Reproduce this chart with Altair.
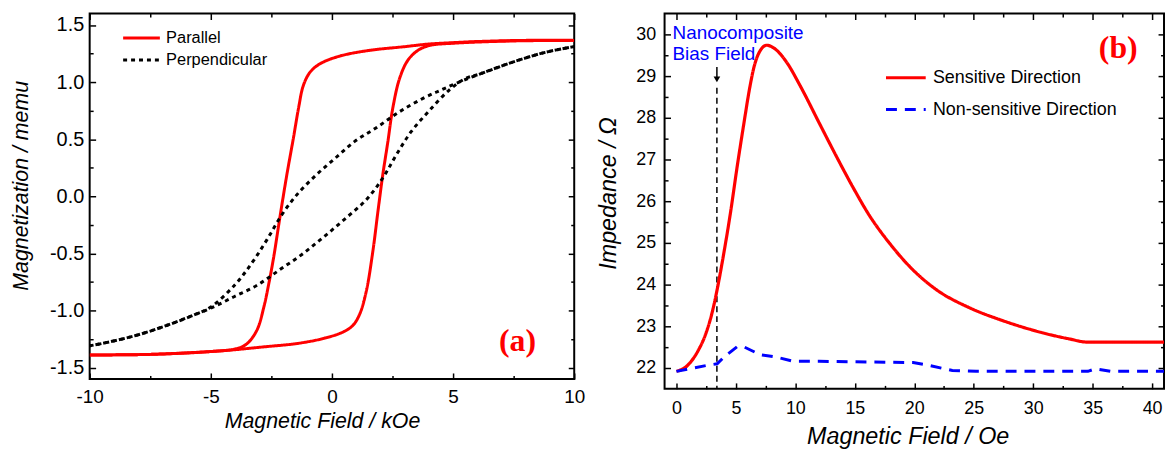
import altair as alt
import pandas as pd

# ---------------- Panel (a): hysteresis loops ----------------
par_desc_x = [10, 8, 6, 5, 4, 3, 1.5, 0.3, -0.5, -0.9, -1.18, -1.38, -1.59, -1.86, -2.13,
              -2.41, -2.61, -2.81, -3.09, -3.5, -3.9, -5, -7.5, -10]
par_desc_y = [1.365, 1.365, 1.355, 1.345, 1.333, 1.31, 1.276, 1.226, 1.159, 1.087, 0.97, 0.77,
              0.51, 0.19, -0.16, -0.54, -0.77, -0.97, -1.17, -1.29, -1.333, -1.36, -1.385, -1.39]
par_asc_x = [-10, -7.5, -5, -4.2, -2.8, -1.45, -0.36, 0.46, 0.87, 1.15, 1.42, 1.69, 1.9, 2.1,
             2.31, 2.51, 2.79, 3.13, 3.54, 4.02, 5, 7.5, 10]
par_asc_y = [-1.39, -1.385, -1.36, -1.348, -1.319, -1.29, -1.246, -1.189, -1.13, -1.03, -0.83,
             -0.48, -0.13, 0.19, 0.48, 0.77, 1.03, 1.19, 1.276, 1.32, 1.34, 1.36, 1.365]
perp_desc_x = [10, 8.8, 7.4, 6.1, 5.25, 4.5, 3.74, 2.79, 1.83, 0.94, 0.12, -0.63, -1.38, -2.06,
               -2.68, -3.29, -3.98, -5.0, -5.7, -6.8, -8.1, -9.5, -10]
perp_desc_y = [1.31, 1.26, 1.17, 1.07, 1.0, 0.93, 0.855, 0.74, 0.60, 0.48, 0.33, 0.19, 0.03, -0.16,
               -0.38, -0.58, -0.77, -0.97, -1.04, -1.13, -1.22, -1.29, -1.31]
perp_asc_x = [-10, -9.5, -8.1, -6.8, -5.7, -5.0, -4.04, -3.09, -2.13, -1.24, -0.36, 0.53, 1.42,
              2.10, 2.65, 3.27, 4.02, 4.84, 5.5, 6.1, 7.4, 8.8, 10]
perp_asc_y = [-1.31, -1.29, -1.22, -1.13, -1.04, -0.98, -0.88, -0.78, -0.64, -0.51, -0.36, -0.20,
              -0.03, 0.16, 0.36, 0.565, 0.75, 0.93, 1.03, 1.07, 1.17, 1.26, 1.31]

a_series = ["Parallel", "Perpendicular"]
a_colors = ["#ff0000", "#000000"]
a_x_major = [-10, -5, 0, 5, 10]
a_x_minor = [-7.5, -2.5, 2.5, 7.5]
a_y_major = [-1.5, -1.0, -0.5, 0.0, 0.5, 1.0, 1.5]
a_y_minor = [-1.25, -0.75, -0.25, 0.25, 0.75, 1.25]
a_label = ["(a)"]
a_label_x = [7.66]
a_label_y = [-1.27]

# ---------------- Panel (b): impedance ----------------
sens_x = [0, 0.92, 1.75, 2.45, 3.0, 3.42, 3.98, 4.53, 5.09, 5.65, 6.2, 6.48, 7.04, 7.6, 8.15,
          9.27, 10.38, 12.05, 13.44, 14.83, 16.22, 17.95, 19.9, 21.85, 24.6, 27.4, 30.2, 33.0,
          34.6, 35.75, 41]
sens_y = [21.92, 22.06, 22.38, 22.81, 23.33, 23.88, 24.75, 25.70, 26.80, 27.83, 28.78, 29.17,
          29.61, 29.74, 29.68, 29.33, 28.78, 27.85, 27.08, 26.34, 25.66, 24.98, 24.35, 23.88,
          23.45, 23.14, 22.89, 22.70, 22.62, 22.62, 22.62]
ns_x = [0, 2.5, 3.42, 3.98, 5.09, 5.65, 7.04, 8.43, 9.82, 12, 17.6, 19.9, 21.3, 23.2, 25.2,
        34.6, 35.2, 36.5, 41]
ns_y = [21.92, 22.06, 22.1, 22.26, 22.51, 22.51, 22.32, 22.26, 22.16, 22.16, 22.14, 22.13,
        22.06, 21.94, 21.92, 21.92, 21.98, 21.92, 21.92]

b_series = ["Sensitive Direction", "Non-sensitive Direction"]
b_colors = ["#ff0000", "#0000ff"]
b_x_major = [0, 5, 10, 15, 20, 25, 30, 35, 40]
b_x_minor = [2.5, 7.5, 12.5, 17.5, 22.5, 27.5, 32.5, 37.5]
b_y_major = [22, 23, 24, 25, 26, 27, 28, 29, 30]
b_y_minor = [22.5, 23.5, 24.5, 25.5, 26.5, 27.5, 28.5, 29.5]
b_label = ["(b)"]
b_label_x = [37.15]
b_label_y = [29.66]
note_text = ["Nanocomposite", "Bias Field"]
note_x = [-0.33, -0.33]
note_y = [30.04, 29.53]
bias_field = [3.4]
arrow_top = [29.22]
arrow_tip = [28.92]
dash_top = [28.72]

FONT = "Liberation Sans"


def build_df(parts):
    rows = []
    for series, branch, xs, ys in parts:
        for i, (xv, yv) in enumerate(zip(xs, ys)):
            rows.append({"x": xv, "y": yv, "series": series, "branch": branch, "idx": i})
    return pd.DataFrame(rows)


def neg_expr(fmt):
    return ("datum.value < 0 ? '-' + format(-datum.value, '%s') : format(datum.value, '%s')"
            % (fmt, fmt))


def tick_axis(orient, values, size):
    return alt.Axis(orient=orient, values=values, tickSize=size, offset=-size, labels=False,
                    title=None, domain=False, grid=False, ticks=True, tickColor="black",
                    tickWidth=1.5, zindex=1)


def axis_layers(xdom, ydom, xmaj, xmin, ymaj, ymin, xtitle, ytitle, xlab_fs, ylab_fs, title_fs,
                xlp, ylp, xtp, ytp, xfmt, yfmt, title_x, title_y, x_ext, y_ext):
    pt = pd.DataFrame({"x": [xdom[0]], "y": [ydom[0]]})
    xs = alt.Scale(domain=xdom, nice=False, zero=False)
    ys = alt.Scale(domain=ydom, nice=False, zero=False)
    label_x = alt.Axis(orient="bottom", values=xmaj, ticks=False, domain=False, grid=False,
                       labels=True, labelExpr=neg_expr(xfmt), labelFont=FONT,
                       labelFontSize=xlab_fs, labelPadding=xlp, labelColor="black",
                       title=xtitle, titleFont=FONT, titleFontSize=title_fs,
                       titleFontStyle="italic", titleFontWeight="normal", titlePadding=xtp,
                       titleColor="black", titleX=title_x, labelFlush=False, labelOverlap=False,
                       minExtent=x_ext, maxExtent=x_ext)
    label_y = alt.Axis(orient="left", values=ymaj, ticks=False, domain=False, grid=False,
                       labels=True, labelExpr=neg_expr(yfmt), labelFont=FONT,
                       labelFontSize=ylab_fs, labelPadding=ylp, labelColor="black",
                       title=ytitle, titleFont=FONT, titleFontSize=title_fs,
                       titleFontStyle="italic", titleFontWeight="normal", titlePadding=ytp,
                       titleColor="black", titleY=title_y, labelFlush=False, labelOverlap=False,
                       minExtent=y_ext, maxExtent=y_ext)
    specs = [
        (label_x, label_y),
        (tick_axis("bottom", xmaj, 6), tick_axis("left", ymaj, 6)),
        (tick_axis("bottom", xmin, 3.5), tick_axis("left", ymin, 3.5)),
        (tick_axis("top", xmaj, 6), tick_axis("right", ymaj, 6)),
        (tick_axis("top", xmin, 3.5), tick_axis("right", ymin, 3.5)),
    ]
    layers = []
    for xa, ya in specs:
        layers.append(
            alt.Chart(pt).mark_point(opacity=0).encode(
                x=alt.X("x:Q", scale=xs, axis=xa),
                y=alt.Y("y:Q", scale=ys, axis=ya),
            )
        )
    return layers


# ---------------- build panel (a) ----------------
a_xdom = [-10, 10]
a_ydom = [-1.6, 1.6]
a_xs = alt.Scale(domain=a_xdom, nice=False, zero=False)
a_ys = alt.Scale(domain=a_ydom, nice=False, zero=False)

a_df = build_df([
    ("Parallel", "desc", par_desc_x, par_desc_y),
    ("Parallel", "asc", par_asc_x, par_asc_y),
    ("Perpendicular", "desc", perp_desc_x, perp_desc_y),
    ("Perpendicular", "asc", perp_asc_x, perp_asc_y),
])

a_legend = alt.Legend(title=None, orient="none", legendX=32.2, legendY=16.5, symbolType="stroke",
                      symbolSize=1369, symbolStrokeWidth=3, labelFont=FONT, labelFontSize=16.5,
                      labelOffset=4.8, rowPadding=5.1, clipHeight=16.5, padding=0,
                      labelLimit=300, labelColor="black")

a_lines = alt.Chart(a_df).mark_line(strokeWidth=3, interpolate="catmull-rom", clip=True).encode(
    x=alt.X("x:Q", scale=a_xs, axis=None),
    y=alt.Y("y:Q", scale=a_ys, axis=None),
    color=alt.Color("series:N", scale=alt.Scale(domain=a_series, range=a_colors), legend=a_legend),
    strokeDash=alt.StrokeDash("series:N", scale=alt.Scale(domain=a_series, range=[[1, 0], [4, 4]]),
                              legend=a_legend),
    detail="branch:N",
    order="idx:Q",
)

a_lab = alt.Chart(pd.DataFrame({"x": a_label_x, "y": a_label_y, "t": a_label})).mark_text(
    font="Liberation Serif", fontSize=32, fontWeight="bold", color="#ff0000",
    align="center", baseline="middle"
).encode(x=alt.X("x:Q", scale=a_xs, axis=None), y=alt.Y("y:Q", scale=a_ys, axis=None), text="t:N")

panel_a = alt.layer(
    a_lines, a_lab,
    *axis_layers(a_xdom, a_ydom, a_x_major, a_x_minor, a_y_major, a_y_minor,
                 "Magnetic Field / kOe", "Magnetization / memu", 19, 20, 21.5,
                 9, 6, 3.8, 16.75, "d", ".1f", 234, 173, 28, 40.5)
).resolve_axis(x="independent", y="independent").properties(width=488, height=368)

# ---------------- build panel (b) ----------------
b_xdom = [-1, 41]
b_ydom = [21.5, 30.5]
b_xs = alt.Scale(domain=b_xdom, nice=False, zero=False)
b_ys = alt.Scale(domain=b_ydom, nice=False, zero=False)

b_df = build_df([
    ("Sensitive Direction", "s", sens_x, sens_y),
    ("Non-sensitive Direction", "n", ns_x, ns_y),
])

b_legend = alt.Legend(title=None, orient="none", legendX=221.5, legendY=55.7, symbolType="stroke",
                      symbolSize=1600, symbolStrokeWidth=3, labelFont=FONT, labelFontSize=18,
                      labelOffset=5.8, rowPadding=14, clipHeight=18, padding=0,
                      labelLimit=300, labelColor="black")

b_enc = dict(
    x=alt.X("x:Q", scale=b_xs, axis=None),
    y=alt.Y("y:Q", scale=b_ys, axis=None),
    color=alt.Color("series:N", scale=alt.Scale(domain=b_series, range=b_colors), legend=b_legend),
    strokeDash=alt.StrokeDash("series:N", scale=alt.Scale(domain=b_series, range=[[1, 0], [11, 8]]),
                              legend=b_legend),
    order="idx:Q",
)
b_sens = alt.Chart(b_df).transform_filter(alt.datum.series == "Sensitive Direction").mark_line(
    strokeWidth=3.2, interpolate="monotone", clip=True).encode(**b_enc)
b_ns = alt.Chart(b_df).transform_filter(alt.datum.series == "Non-sensitive Direction").mark_line(
    strokeWidth=3, clip=True).encode(**b_enc)

ann_df = pd.DataFrame({"x": bias_field, "top": arrow_top, "tip": arrow_tip, "dtop": dash_top,
                       "bottom": [b_ydom[0]]})
b_stem = alt.Chart(ann_df).mark_rule(color="black", strokeWidth=1.5).encode(
    x=alt.X("x:Q", scale=b_xs, axis=None), y=alt.Y("top:Q", scale=b_ys, axis=None), y2="tip:Q")
b_head = alt.Chart(ann_df).mark_point(shape="triangle-down", filled=True, color="black", size=45,
                                      opacity=1).encode(
    x=alt.X("x:Q", scale=b_xs, axis=None), y=alt.Y("tip:Q", scale=b_ys, axis=None))
b_dash = alt.Chart(ann_df).mark_rule(color="black", strokeWidth=1.5, strokeDash=[6, 4]).encode(
    x=alt.X("x:Q", scale=b_xs, axis=None), y=alt.Y("dtop:Q", scale=b_ys, axis=None), y2="bottom:Q")

b_note = alt.Chart(pd.DataFrame({"x": note_x, "y": note_y, "t": note_text})).mark_text(
    font=FONT, fontSize=19, color="#0000ff", align="left", baseline="middle"
).encode(x=alt.X("x:Q", scale=b_xs, axis=None), y=alt.Y("y:Q", scale=b_ys, axis=None), text="t:N")

b_lab = alt.Chart(pd.DataFrame({"x": b_label_x, "y": b_label_y, "t": b_label})).mark_text(
    font="Liberation Serif", fontSize=32, fontWeight="bold", color="#ff0000",
    align="center", baseline="middle"
).encode(x=alt.X("x:Q", scale=b_xs, axis=None), y=alt.Y("y:Q", scale=b_ys, axis=None), text="t:N")

panel_b = alt.layer(
    b_dash, b_stem, b_head, b_sens, b_ns, b_note, b_lab,
    *axis_layers(b_xdom, b_ydom, b_x_major, b_x_minor, b_y_major, b_y_minor,
                 "Magnetic Field / Oe", "Impedance / Ω", 18, 18, 23.5,
                 10.5, 9, 7.1, 15.45, "d", "d", 244.8, 180.7, 28.5, 29)
).resolve_axis(x="independent", y="independent").properties(width=503, height=378)

chart = alt.hconcat(panel_a, panel_b, spacing=91, bounds="flush").resolve_scale(
    color="independent", strokeDash="independent"
).resolve_legend(color="independent", strokeDash="independent").properties(
    padding={"left": 1.25, "top": 2, "right": 0, "bottom": 0},
    background="white",
).configure_view(stroke="black", strokeWidth=2)

chart.save("out.html", embed_options={"renderer": "svg", "actions": False})
